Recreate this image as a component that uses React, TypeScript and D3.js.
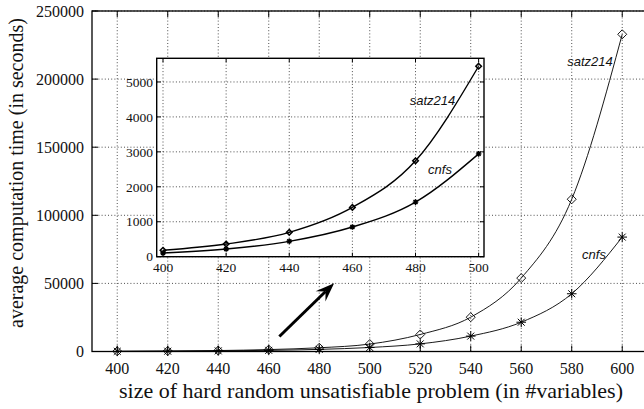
import React from 'react';
import * as d3 from 'd3';

// problem sizes (#variables)
const sizes = [400, 420, 440, 460, 480, 500, 520, 540, 560, 580, 600];
// average computation time in seconds
const satz214 = [183, 363, 697, 1411, 2743, 5450, 12500, 25200, 53900, 111800, 232900];
const cnfs = [106, 220, 440, 849, 1563, 2943, 5600, 11300, 21500, 42400, 84000];

const mainXTicks = [400, 420, 440, 460, 480, 500, 520, 540, 560, 580, 600];
const mainYTicks = [0, 50000, 100000, 150000, 200000, 250000];
const insetXTicks = [400, 420, 440, 460, 480, 500];
const insetYTicks = [0, 1000, 2000, 3000, 4000, 5000];

const serif = '"Liberation Serif", "Times New Roman", serif';
const sans = '"Liberation Sans", Arial, sans-serif';

function Diamond({ x, y, r, sw }: { x: number; y: number; r: number; sw: number }) {
  return (
    <path d={`M${x},${y - r}L${x + r},${y}L${x},${y + r}L${x - r},${y}Z`} fill="none" stroke="#000" strokeWidth={sw} />
  );
}

function Star({ x, y, r, sw }: { x: number; y: number; r: number; sw: number }) {
  const d = r * 0.72;
  return (
    <path
      d={`M${x - r},${y}L${x + r},${y}M${x},${y - r}L${x},${y + r}M${x - d},${y - d}L${x + d},${y + d}M${x - d},${y + d}L${x + d},${y - d}`}
      stroke="#000"
      strokeWidth={sw}
    />
  );
}

export default function App() {
  const W = 644, H = 409;
  const m = { left: 92, right: 650, top: 11, bottom: 351.5 };
  const x = d3.scaleLinear().domain([390, 611]).range([m.left, m.right]);
  const y = d3.scaleLinear().domain([0, 250000]).range([m.bottom, m.top]);

  const ins = { left: 156.7, right: 484, top: 58.3, bottom: 256.7 };
  const ix = d3.scaleLinear().domain([398, 501.7]).range([ins.left, ins.right]);
  const iy = d3.scaleLinear().domain([0, 5677]).range([ins.bottom, ins.top]);

  const pts = (vals: number[], n?: number) =>
    sizes.slice(0, n ?? sizes.length).map((s, i) => [s, vals[i]] as [number, number]);

  const mainLine = d3.line<[number, number]>()
    .x(d => x(d[0])).y(d => y(d[1])).curve(d3.curveMonotoneX);
  const insetLine = d3.line<[number, number]>()
    .x(d => ix(d[0])).y(d => iy(d[1])).curve(d3.curveMonotoneX);

  const insetN = 6;
  const tick = 6, itick = 4;
  const grid = { stroke: '#222', strokeWidth: 0.8, strokeDasharray: '1,2.2' };

  // arrow in data coords of main chart
  const tail: [number, number] = [x(464.2), y(11000)];
  const tip: [number, number] = [x(485.9), y(50200)];
  const dx = tip[0] - tail[0], dy = tip[1] - tail[1];
  const len = Math.hypot(dx, dy);
  const ux = dx / len, uy = dy / len, nx = -uy, ny = ux;
  const hl = 19, hw = 7, notch = 12;
  const wing1 = [tip[0] - hl * ux + hw * nx, tip[1] - hl * uy + hw * ny];
  const wing2 = [tip[0] - hl * ux - hw * nx, tip[1] - hl * uy - hw * ny];
  const back = [tip[0] - notch * ux, tip[1] - notch * uy];

  return (
    <svg width={W} height={H} style={{ position: 'absolute', left: 0, top: 0, background: '#fff' }}>
      <rect width={W} height={H} fill="#fff" />
      {/* main grid */}
      {mainXTicks.map(t => (
        <line key={'gx' + t} x1={x(t)} x2={x(t)} y1={m.top} y2={m.bottom} {...grid} />
      ))}
      {mainYTicks.map(t => (
        <line key={'gy' + t} x1={m.left} x2={m.right} y1={y(t)} y2={y(t)} {...grid} />
      ))}
      {/* ticks */}
      {mainXTicks.map(t => (
        <g key={'tx' + t}>
          <line x1={x(t)} x2={x(t)} y1={m.bottom} y2={m.bottom - tick} stroke="#000" />
          <line x1={x(t)} x2={x(t)} y1={m.top} y2={m.top + tick} stroke="#000" />
          <text x={x(t)} y={374} textAnchor="middle" fontFamily={serif} fontSize={16} fill="#111">{t}</text>
        </g>
      ))}
      {mainYTicks.map(t => (
        <g key={'ty' + t}>
          <line x1={m.left} x2={m.left + tick} y1={y(t)} y2={y(t)} stroke="#000" />
          <text x={84} y={y(t)} dy="0.35em" textAnchor="end" fontFamily={serif} fontSize={16} fill="#111">{t}</text>
        </g>
      ))}
      <rect x={m.left} y={m.top} width={m.right - m.left} height={m.bottom - m.top} fill="none" stroke="#000" strokeWidth={1.3} />

      {/* main series */}
      <path d={mainLine(pts(satz214)) || ''} fill="none" stroke="#000" strokeWidth={0.9} />
      <path d={mainLine(pts(cnfs)) || ''} fill="none" stroke="#000" strokeWidth={0.9} />
      {sizes.map((s, i) => <Diamond key={'d' + s} x={x(s)} y={y(satz214[i])} r={4.5} sw={0.9} />)}
      {sizes.map((s, i) => <Star key={'s' + s} x={x(s)} y={y(cnfs[i])} r={4.8} sw={1} />)}
      <text x={590} y={66} textAnchor="middle" fontFamily={sans} fontStyle="italic" fontSize={13} fill="#111">satz214</text>
      <text x={594} y={259} textAnchor="middle" fontFamily={sans} fontStyle="italic" fontSize={13} fill="#111">cnfs</text>

      {/* arrow */}
      <line x1={tail[0]} y1={tail[1]} x2={back[0]} y2={back[1]} stroke="#000" strokeWidth={3} />
      <path d={`M${tip[0]},${tip[1]}L${wing1[0]},${wing1[1]}L${back[0]},${back[1]}L${wing2[0]},${wing2[1]}Z`} fill="#000" />

      {/* inset */}
      <rect x={ins.left} y={ins.top} width={ins.right - ins.left} height={ins.bottom - ins.top} fill="#fff" />
      {insetXTicks.map(t => (
        <line key={'igx' + t} x1={ix(t)} x2={ix(t)} y1={ins.top} y2={ins.bottom} {...grid} />
      ))}
      {insetYTicks.map(t => (
        <line key={'igy' + t} x1={ins.left} x2={ins.right} y1={iy(t)} y2={iy(t)} {...grid} />
      ))}
      {insetXTicks.map(t => (
        <g key={'itx' + t}>
          <line x1={ix(t)} x2={ix(t)} y1={ins.bottom} y2={ins.bottom - itick} stroke="#000" />
          <line x1={ix(t)} x2={ix(t)} y1={ins.top} y2={ins.top + itick} stroke="#000" />
          <text x={ix(t)} y={271.5} textAnchor="middle" fontFamily={serif} fontSize={13.5} fill="#111">{t}</text>
        </g>
      ))}
      {insetYTicks.map(t => (
        <g key={'ity' + t}>
          <line x1={ins.left} x2={ins.left + itick} y1={iy(t)} y2={iy(t)} stroke="#000" />
          <line x1={ins.right} x2={ins.right - itick} y1={iy(t)} y2={iy(t)} stroke="#000" />
          <text x={153} y={iy(t)} dy="0.35em" textAnchor="end" fontFamily={serif} fontSize={13.5} fill="#111">{t}</text>
        </g>
      ))}
      <path d={insetLine(pts(satz214, insetN)) || ''} fill="none" stroke="#000" strokeWidth={1.4} />
      <path d={insetLine(pts(cnfs, insetN)) || ''} fill="none" stroke="#000" strokeWidth={1.4} />
      {sizes.slice(0, insetN).map((s, i) => <Diamond key={'id' + s} x={ix(s)} y={iy(satz214[i])} r={2.8} sw={1.5} />)}
      {sizes.slice(0, insetN).map((s, i) => <Star key={'is' + s} x={ix(s)} y={iy(cnfs[i])} r={2.8} sw={1.4} />)}
      <rect x={ins.left} y={ins.top} width={ins.right - ins.left} height={ins.bottom - ins.top} fill="none" stroke="#000" strokeWidth={1.4} />
      <text x={432.5} y={104.5} textAnchor="middle" fontFamily={sans} fontStyle="italic" fontSize={13} fill="#111">satz214</text>
      <text x={440} y={173.5} textAnchor="middle" fontFamily={sans} fontStyle="italic" fontSize={13} fill="#111">cnfs</text>

      {/* axis titles */}
      <text x={371} y={398} textAnchor="middle" fontFamily={serif} fontSize={22} fill="#111">
        size of hard random unsatisfiable problem (in #variables)
      </text>
      <text transform="translate(23,173) rotate(-90)" textAnchor="middle" fontFamily={serif} fontSize={20} fill="#111">
        average computation time (in seconds)
      </text>
    </svg>
  );
}
